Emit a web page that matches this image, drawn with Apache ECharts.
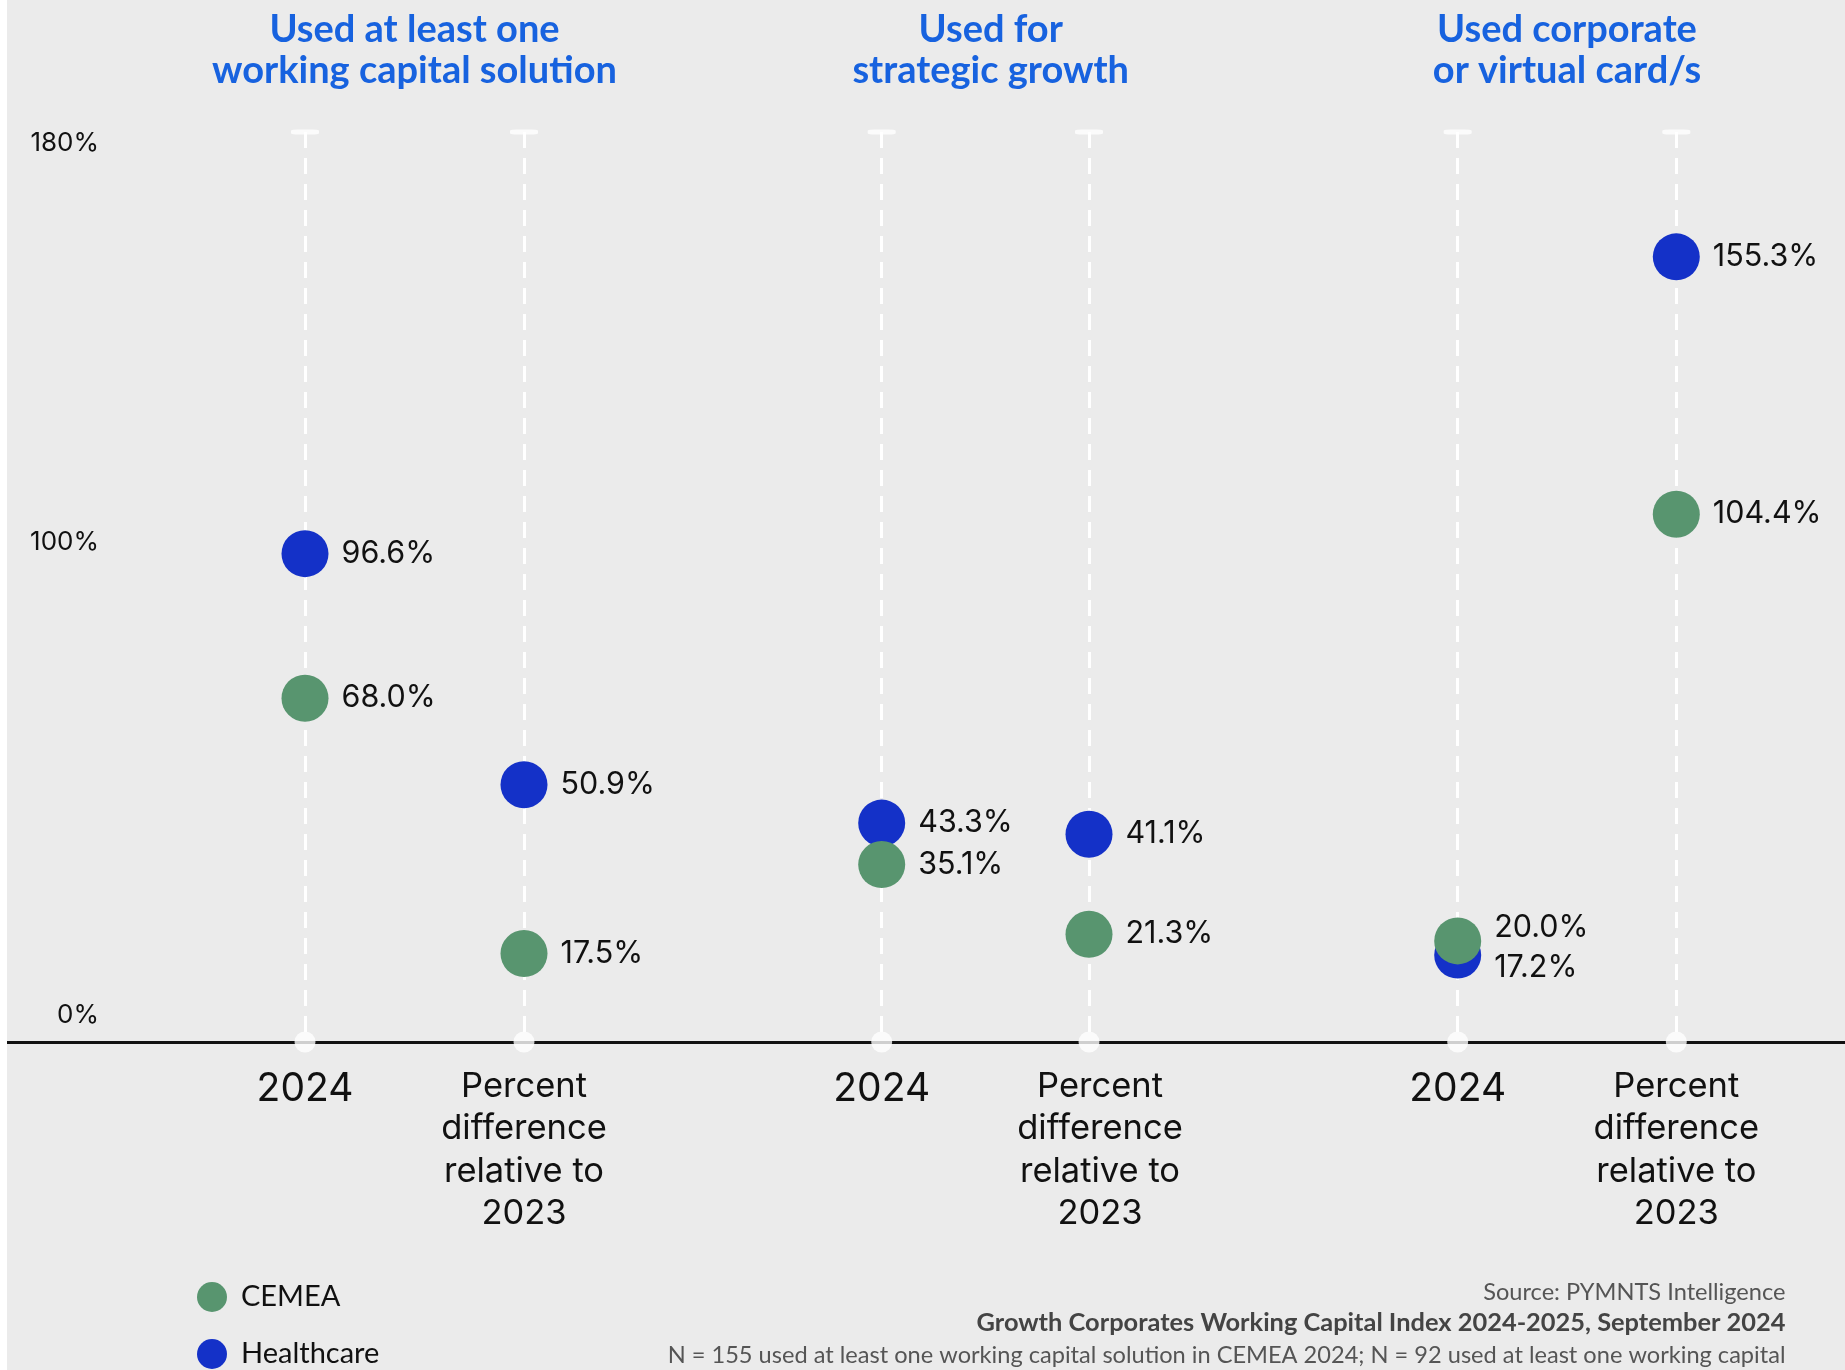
<!DOCTYPE html>
<html>
<head>
<meta charset="utf-8">
<script src="https://cdn.jsdelivr.net/npm/echarts@6/dist/echarts.min.js"></script>
<style>
  html, body { margin: 0; padding: 0; background: #ffffff; }
  #chart { width: 1845px; height: 1370px; }
</style>
</head>
<body>
<div id="chart"></div>
<script>
// ---------------- data ----------------
const groupTitles = [
  'Used at least one\nworking capital solution',
  'Used for\nstrategic growth',
  'Used corporate\nor virtual card/s'
];
const categories = ['2024', 'Percent\ndifference\nrelative to\n2023'];
const seriesNames = ['CEMEA', 'Healthcare'];
const cemea      = [68.0, 17.5, 35.1, 21.3, 20.0, 104.4];
const healthcare = [96.6, 50.9, 43.3, 41.1, 17.2, 155.3];
const yTickValues = [0, 100, 180];
const yTickLabels = ['0%', '100%', '180%'];
const sourceLines = [
  'Source: PYMNTS Intelligence',
  'Growth Corporates Working Capital Index 2024-2025, September 2024',
  'N = 155 used at least one working capital solution in CEMEA 2024; N = 92 used at least one working capital'
];

// ---------------- layout / style ----------------
const W = 1845, H = 1370;
const PLOT_TOP = 132, AXIS_Y = 1042;
const groups = [
  { left: 305,   width: 219,   titleX: 414.5, pdShift: 0 },
  { left: 881.7, width: 207.3, titleX: 990.7, pdShift: 22 },
  { left: 1457.7, width: 218.6, titleX: 1567, pdShift: 0 }
];
const COLORS = { CEMEA: '#58956f', Healthcare: '#1431c8' };
const FONT = 'Lato';
const NUMFONT = 'Inter';
const INK = '#111111';
const BG = '#ebebeb';

const yMin = yTickValues[0], yMax = yTickValues[yTickValues.length - 1];
const fmtPct = v => v.toFixed(1) + '%';

const grids = [{ left: 7, right: 0, top: PLOT_TOP, bottom: H - AXIS_Y }];
const xAxes = [{
  gridIndex: 0, type: 'value', min: 0, max: 1,
  axisLine: { show: true, lineStyle: { color: INK, width: 3 } },
  axisTick: { show: false }, axisLabel: { show: false }, splitLine: { show: false }
}];
const yAxes = [{
  gridIndex: 0, type: 'value', min: yMin, max: yMax, interval: 100,
  axisLine: { show: false }, axisTick: { show: false }, splitLine: { show: false },
  axisLabel: {
    customValues: yTickValues,
    margin: -92, align: 'right', color: INK, fontFamily: NUMFONT, fontSize: 26,
    formatter: v => {
      const i = yTickValues.indexOf(v);
      return i < 0 ? '' : '{t' + i + '|' + yTickLabels[i] + '}';
    },
    rich: {
      t0: { fontFamily: NUMFONT, fontSize: 26, color: INK, padding: [0, 0, 54, 0] },
      t1: { fontFamily: NUMFONT, fontSize: 26, color: INK, padding: [12, 0, 0, 0] },
      t2: { fontFamily: NUMFONT, fontSize: 26, color: INK, padding: [22, 0, 0, 0] }
    }
  }
}];
const series = [];

groups.forEach((g, gi) => {
  const idx = gi + 1;
  grids.push({ left: g.left, width: g.width, top: PLOT_TOP, bottom: H - AXIS_Y });
  xAxes.push({
    gridIndex: idx, type: 'category', data: categories, boundaryGap: false,
    axisLine: { show: false }, axisTick: { show: false },
    splitLine: { show: true, lineStyle: { color: '#ffffff', width: 3, type: [16, 10] } },
    axisLabel: {
      interval: 0, margin: 23,
      formatter: v => {
        if (v === categories[0]) return '{yr|' + v + '}';
        const key = g.pdShift ? 'pdS' : 'pd';
        return v.split('\n').map(l => '{' + key + '|' + l + '}').join('\n');
      },
      rich: {
        yr:  { fontFamily: NUMFONT, fontSize: 39, lineHeight: 49, color: INK },
        pd:  { fontFamily: NUMFONT, fontSize: 34.5, lineHeight: 42.5, color: INK },
        pdS: { fontFamily: NUMFONT, fontSize: 34.5, lineHeight: 42.5, color: INK, padding: [0, 0, 0, g.pdShift] }
      }
    }
  });
  yAxes.push({ gridIndex: idx, type: 'value', min: yMin, max: yMax, show: false });

  // guide caps (top) and dots (axis)
  series.push({
    type: 'scatter', xAxisIndex: idx, yAxisIndex: idx, silent: true, clip: false,
    symbol: 'roundRect', symbolSize: [28, 5], itemStyle: { color: '#ffffff' },
    data: categories.map(() => yMax), z: 1
  });
  series.push({
    type: 'scatter', xAxisIndex: idx, yAxisIndex: idx, silent: true, clip: false,
    symbol: 'circle', symbolSize: 21, itemStyle: { color: '#ffffff' },
    data: categories.map(() => yMin), z: 3
  });

  const c = [cemea[gi * 2], cemea[gi * 2 + 1]];
  const h = [healthcare[gi * 2], healthcare[gi * 2 + 1]];
  const mk = (vals, other) => vals.map((v, k) => {
    const d = { value: v };
    if (Math.abs(v - other[k]) < 6) {
      d.label = { offset: [0, v > other[k] ? -13 : 13] };
    }
    return d;
  });
  [['Healthcare', h, c], ['CEMEA', c, h]].forEach(([name, vals, other]) => {
    series.push({
      name, type: 'scatter', xAxisIndex: idx, yAxisIndex: idx, clip: false,
      symbol: 'circle', symbolSize: 47,
      itemStyle: { color: COLORS[name], opacity: 1 },
      label: {
        show: true, position: 'right', distance: 13,
        fontFamily: NUMFONT, fontSize: 30.5, color: INK,
        formatter: p => fmtPct(p.value)
      },
      emphasis: { disabled: true },
      data: mk(vals, other),
      z: 2
    });
  });
});

const graphics = [
  { type: 'rect', left: 0, top: 0, shape: { width: 7, height: H }, style: { fill: '#ffffff' }, z: 100 }
];
groups.forEach((g, gi) => {
  graphics.push({
    type: 'text', x: g.titleX, y: 9,
    style: {
      text: groupTitles[gi], fill: '#1762df', fontFamily: FONT, fontWeight: 'bold',
      fontSize: 38, lineHeight: 41, align: 'center', verticalAlign: 'top'
    }
  });
});
const srcY = [1292, 1323, 1355];
sourceLines.forEach((t, i) => {
  graphics.push({
    type: 'text', x: 1785.5, y: srcY[i],
    style: {
      text: t, fill: i === 1 ? '#444444' : '#555555', fontFamily: FONT,
      fontWeight: i === 1 ? 'bold' : 'normal', fontSize: i === 1 ? 25.4 : 23.6,
      align: 'right', verticalAlign: 'middle'
    }
  });
});

const legendCenters = [1297, 1354];
const legends = seriesNames.map((n, i) => ({
  data: [n], orient: 'vertical', left: 197, top: legendCenters[i] - 15, padding: 0,
  itemWidth: 30, itemHeight: 30, icon: 'circle', selectedMode: false,
  textStyle: { fontFamily: FONT, fontSize: 29, lineHeight: 30, color: INK, padding: [0, 0, 0, 9] }
}));

const chart = echarts.init(document.getElementById('chart'), null, { renderer: 'canvas' });
chart.setOption({
  animation: false,
  backgroundColor: BG,
  grid: grids,
  xAxis: xAxes,
  yAxis: yAxes,
  legend: legends,
  graphic: graphics,
  series
});
</script>
</body>
</html>
